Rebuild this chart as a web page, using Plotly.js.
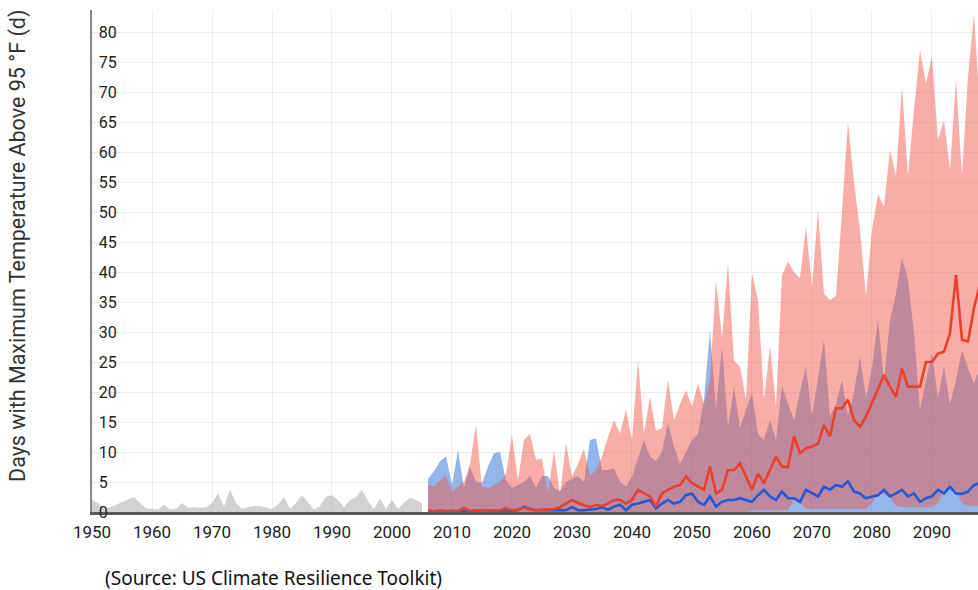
<!DOCTYPE html>
<html>
<head>
<meta charset="utf-8">
<script src="https://cdn.plot.ly/plotly-3.0.1.min.js"></script>
<style>
html,body{margin:0;padding:0;background:#fff;overflow:hidden;}
#chart{width:978px;height:590px;}
</style>
</head>
<body>
<div id="chart"></div>
<script>
// Historical observed (gray), 1950-2005
const histYears = [];
for (let y = 1950; y <= 2005; y++) histYears.push(y);
const histValues = [2.0,1.5,0.6,0.8,1.2,1.6,2.0,2.5,1.5,0.6,
  0.5,0.4,1.2,0.4,0.5,1.5,0.7,0.8,0.7,0.8,
  1.5,3.1,0.9,3.7,1.5,0.5,0.8,1.0,1.0,0.8,
  0.5,1.2,2.5,0.5,1.5,2.8,1.5,0.4,1.0,2.6,
  2.8,2.0,0.8,2.0,2.5,3.7,1.8,0.5,2.3,0.5,
  2.0,0.5,1.5,2.4,2.0,1.5];

// Projections, 2006-2098
const projYears = [];
for (let y = 2006; y <= 2098; y++) projYears.push(y);

const redMax = [4.5,4.3,5.3,6,3.5,4.2,5,8,14.5,4.2,
  4,4.5,5,6.4,12.8,5.3,12,13,8.7,8.9,
  3,10.3,3,11.4,5.9,8,10.6,6,7,9.2,
  12.5,15.3,13.1,17,12,25.3,13,19.2,13.5,14,
  22,15.3,18,20.3,17.6,21.4,18,22,38.7,29,
  41.4,25.3,24.2,18.7,39.8,35.3,18.7,27.6,17.6,39.5,
  41.7,40,39,47.5,37.6,50.3,36.4,35.3,36,50,
  65,55,47,36,47,53,50.9,60.3,56,70.9,
  56,67,77,71.4,75.9,62,65.3,57,72,56,
  72.5,83,67];

const redMin = [0,0,0,0,0,0,0,0,0,0,
  0,0,0,0,0,0,0,0,0,0,
  0,0,0,0,0,0,0,0,0,0,
  0,0,0,0,0,0,0,0,0,0,
  0,0,0,0,0,0,0,0,0,0,
  0,0,0,0,0.3,0.3,0.3,0.3,0.3,0.3,
  0.3,2,1.5,0.5,0.5,0.5,0.5,0.5,0.5,0.5,
  0.5,0.5,0.5,0.5,1.5,3,3,2.5,1,0.8,
  0.8,0.8,0.8,0.8,0.8,1.5,3.5,4,3.5,1.5,
  1,1,1];

const blueMax = [5.5,6.8,8.4,9.3,4.5,10.3,4,7.5,5,4.8,
  7.6,9.8,10,5.3,4,4.5,5,6,4,6,
  6,4,3.5,5,5.5,6,5,12,12.3,7,
  7,7.3,5,4.2,5.9,9,12,9.2,8.5,10,
  14.8,10.9,8,10,12,13,18.7,30.3,17,27.6,
  14.2,20.9,14,17,19.8,13,12,15.3,12,21,
  18,15.3,20,24.2,16,22,28.7,16,18,22,
  16,20,25.9,19,24,32,22,32,36.4,42.3,
  38.7,29.8,17,22,26.4,19,24.2,18,22,27,
  24,21.4,24];

const redMedian = [0.2,0.1,0.2,0.1,0.1,0.2,0.7,0.2,0.3,0.2,
  0.2,0.3,0.3,0.6,0.3,0.4,0.7,0.4,0.3,0.4,
  0.5,0.5,0.8,1.4,2.0,1.5,1.2,0.8,1.2,1.0,
  1.4,2.0,2.0,1.4,2.0,3.7,3.1,2.6,0.9,3.1,
  3.7,4.2,4.5,5.9,4.8,4.2,3.7,7.6,3.1,3.7,
  7.0,7.0,8.1,5.9,3.7,6.4,4.8,7.0,9.2,7.6,
  7.5,12.6,9.8,10.6,10.9,11.4,14.5,12.6,17.3,17.3,
  18.7,15.3,14.2,15.9,18.1,20.3,22.8,20.9,19.2,23.9,
  20.9,20.9,20.9,25,25,26.4,26.7,29.8,39.5,28.7,
  28.4,34,38];

const blueMedian = [0.2,0.1,0.2,0.1,0.2,0.1,0.2,0.1,0.2,0.2,
  0.1,0.2,0.2,0.3,0.2,0.3,0.9,0.5,0.3,0.3,
  0.3,0.3,0.3,0.3,0.8,0.3,0.3,0.4,0.5,0.8,
  0.4,0.9,1.2,0.3,1.2,1.4,1.7,2.0,0.6,1.4,
  2.0,1.4,1.7,2.8,3.1,1.7,1.2,2.6,0.9,1.7,
  2.0,2.0,2.3,2.0,1.7,2.8,3.7,2.6,2.0,3.4,
  2.3,2.3,1.7,3.7,3.1,2.6,4.2,3.7,4.5,4.2,
  5.1,3.4,3.1,2.3,2.6,2.8,3.7,2.6,3.1,3.7,
  2.6,3.1,1.7,2.3,2.6,3.7,3.1,4.2,3.1,3.0,
  3.4,4.5,4.8];

const xTickVals = [1950,1960,1970,1980,1990,2000,2010,2020,2030,2040,2050,2060,2070,2080,2090];
const yTickVals = [0,5,10,15,20,25,30,35,40,45,50,55,60,65,70,75,80];

const traces = [
  {x: histYears, y: histValues, type: 'scatter', mode: 'lines', fill: 'tozeroy',
   line: {width: 0, color: 'rgba(0,0,0,0)'}, fillcolor: 'rgba(165,165,165,0.5)', hoverinfo: 'skip'},
  {x: projYears, y: blueMax, type: 'scatter', mode: 'lines', fill: 'tozeroy',
   line: {width: 0, color: 'rgba(0,0,0,0)'}, fillcolor: 'rgba(40,110,215,0.5)', hoverinfo: 'skip'},
  {x: projYears, y: redMin, type: 'scatter', mode: 'lines',
   line: {width: 0, color: 'rgba(0,0,0,0)'}, hoverinfo: 'skip'},
  {x: projYears, y: redMax, type: 'scatter', mode: 'lines', fill: 'tonexty',
   line: {width: 0, color: 'rgba(0,0,0,0)'}, fillcolor: 'rgba(240,85,70,0.48)', hoverinfo: 'skip'},
  {x: projYears, y: blueMedian, type: 'scatter', mode: 'lines',
   line: {width: 2.6, color: '#2259d4'}},
  {x: projYears, y: redMedian, type: 'scatter', mode: 'lines',
   line: {width: 2.6, color: '#e9402e'}}
];

const tickFont = {family: 'Roboto, Arial, sans-serif', size: 17, color: '#222'};

const layout = {
  width: 978, height: 590,
  margin: {l: 92, r: 0, t: 10, b: 78},
  paper_bgcolor: '#fff', plot_bgcolor: '#fff',
  showlegend: false,
  font: {family: 'Roboto, Arial, sans-serif', color: '#333'},
  xaxis: {
    range: [1950, 2097.67], tickvals: xTickVals, ticktext: xTickVals.map(String),
    showgrid: true, gridcolor: '#ececec', gridwidth: 1,
    showline: true, linecolor: '#5a5a5a', linewidth: 2.5,
    zeroline: false, ticks: '', tickfont: tickFont, ticklabeloverflow: 'allow',
    ticklabelstandoff: 3
  },
  yaxis: {
    range: [0, 83.67], tickvals: yTickVals, ticktext: yTickVals.map(String),
    ticklabelposition: 'inside', ticklabelstandoff: 7, ticklabeloverflow: 'allow',
    showgrid: true, gridcolor: '#ececec', gridwidth: 1,
    showline: true, linecolor: '#888', linewidth: 2,
    zeroline: false, ticks: '', tickfont: {family: 'Roboto, Arial, sans-serif', size: 16, color: '#222'}
  },
  annotations: [
    {text: 'Days with Maximum Temperature Above 95 °F (d)', xref: 'paper', yref: 'paper',
     x: -0.0835, y: 0.53, xanchor: 'center', yanchor: 'middle', textangle: -90,
     showarrow: false, font: {family: 'Roboto, Arial, sans-serif', size: 21.5, color: '#333'}},
    {text: '(Source: US Climate Resilience Toolkit)', xref: 'paper', yref: 'paper',
     x: 0.0125, y: -0.131, xanchor: 'left', yanchor: 'middle',
     showarrow: false, font: {family: 'Noto Sans, Open Sans, sans-serif', size: 19, color: '#111'}}
  ]
};

Plotly.newPlot('chart', traces, layout, {displayModeBar: false, staticPlot: true});
</script>
</body>
</html>
